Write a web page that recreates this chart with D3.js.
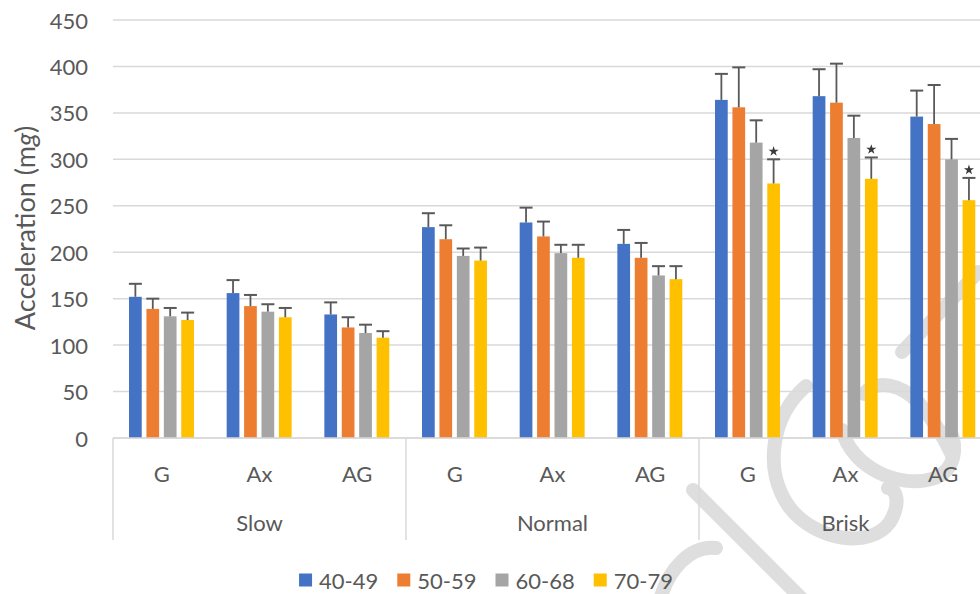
<!DOCTYPE html>
<html>
<head>
<meta charset="utf-8">
<script src="https://cdn.jsdelivr.net/npm/d3@7"></script>
<style>
  html, body { margin: 0; padding: 0; background: #ffffff; }
  svg { display: block; font-family: Lato, "Open Sans", sans-serif; }
</style>
</head>
<body>
<svg id="chart" width="980" height="594"></svg>
<script>
// Walking speed groups and accelerometer metrics (two-level category axis)
const speeds = ["Slow", "Normal", "Brisk"];
const metrics = ["G", "Ax", "AG"];
const ageGroups = ["40-49", "50-59", "60-68", "70-79"];
const seriesColors = ["#4472c4", "#ed7d31", "#a5a5a5", "#ffc000"];

// Mean acceleration (mg), order: Slow G/Ax/AG, Normal G/Ax/AG, Brisk G/Ax/AG
const mean4049 = [152, 156, 133, 227, 232, 209, 364, 368, 346];
const mean5059 = [139, 142, 119, 214, 217, 194, 356, 361, 338];
const mean6068 = [131, 136, 113, 196, 199, 175, 318, 323, 300];
const mean7079 = [127, 130, 108, 191, 194, 171, 274, 279, 256];

// Standard deviations (upper error bars)
const sd4049 = [14, 14, 13, 15, 16, 15, 28, 29, 28];
const sd5059 = [11, 12, 11, 15, 16, 16, 43, 42, 42];
const sd6068 = [9, 8, 9, 8, 9, 10, 24, 24, 22];
const sd7079 = [8, 10, 7, 14, 14, 14, 26, 23, 24];

// Significance markers for the oldest group
const star7079 = [false, false, false, false, false, false, true, true, true];

const yTicks = [0, 50, 100, 150, 200, 250, 300, 350, 400, 450];
const yTitle = "Acceleration (m";
const yTitleItalic = "g";

const means = [mean4049, mean5059, mean6068, mean7079];
const sds = [sd4049, sd5059, sd6068, sd7079];
const stars = [null, null, null, star7079];

const categories = [];
speeds.forEach(s => metrics.forEach(m => categories.push({ speed: s, metric: m, key: s + "|" + m })));

const svg = d3.select("#chart");
const W = 980, H = 594;
svg.append("rect").attr("width", W).attr("height", H).attr("fill", "#ffffff");

const plotLeft = 113, plotRight = 992, plotTop = 20, plotBottom = 438;
const textColor = "#595959", gridColor = "#d9d9d9";

// Background script mark
const wm = svg.append("g")
  .attr("fill", "none")
  .attr("stroke", "#dedede")
  .attr("stroke-width", 14)
  .attr("stroke-linecap", "round");
[
  "M 693,490 L 805,602",
  "M 660,600 C 668,570 690,545 716,548",
  "M 806,386 C 772,415 762,470 790,508 C 815,540 870,550 890,522 C 900,505 898,490 888,488",
  "M 864,394 C 876,378 902,385 918,402 C 934,420 945,440 952,455",
  "M 842,430 C 852,468 900,490 935,478 C 955,470 958,448 950,430",
  "M 902,352 L 978,272"
].forEach(d => wm.append("path").attr("d", d));

const y = d3.scaleLinear().domain([0, 450]).range([plotBottom, plotTop]);
const x0 = d3.scaleBand().domain(categories.map(c => c.key)).range([plotLeft, plotRight]).padding(0);
const bw = x0.bandwidth();
const x1 = d3.scaleBand().domain(ageGroups).range([bw * 0.164, bw * 0.829]).paddingInner(0.27).paddingOuter(0);

// Gridlines
svg.append("g").selectAll("line").data(yTicks).join("line")
  .attr("x1", plotLeft).attr("x2", W)
  .attr("y1", d => y(d)).attr("y2", d => y(d))
  .attr("stroke", gridColor).attr("stroke-width", 1.5);

// Y tick labels
svg.append("g").selectAll("text").data(yTicks).join("text")
  .attr("x", 88).attr("y", d => y(d))
  .attr("text-anchor", "end").attr("dominant-baseline", "central")
  .attr("font-size", 22).attr("fill", textColor)
  .text(d => d);

// Y axis title
const yt = svg.append("text")
  .attr("transform", "translate(35,228) rotate(-90)")
  .attr("text-anchor", "middle")
  .attr("font-size", 27).attr("fill", textColor);
yt.append("tspan").text(yTitle);
yt.append("tspan").attr("font-style", "italic").text(yTitleItalic);
yt.append("tspan").text(")");

// Bars
const barG = svg.append("g");
ageGroups.forEach((ag, si) => {
  barG.append("g").selectAll("rect").data(categories).join("rect")
    .attr("x", c => x0(c.key) + x1(ag))
    .attr("width", x1.bandwidth())
    .attr("y", (c, i) => y(means[si][i]))
    .attr("height", (c, i) => y(0) - y(means[si][i]))
    .attr("fill", seriesColors[si]);
});

// Error bars and significance stars
const errG = svg.append("g").attr("stroke", "#595959").attr("stroke-width", 1.8);
ageGroups.forEach((ag, si) => {
  categories.forEach((c, i) => {
    const cx = x0(c.key) + x1(ag) + x1.bandwidth() / 2;
    const top = y(means[si][i] + sds[si][i]);
    errG.append("line").attr("x1", cx).attr("x2", cx)
      .attr("y1", y(means[si][i])).attr("y2", top);
    errG.append("line").attr("x1", cx - 6.5).attr("x2", cx + 6.5)
      .attr("y1", top).attr("y2", top).attr("stroke-width", 2);
    if (stars[si] && stars[si][i]) {
      svg.append("path")
        .attr("d", d3.symbol(d3.symbolStar, 32)())
        .attr("transform", `translate(${cx},${top - 8})`)
        .attr("fill", "#3a3a3a");
    }
  });
});

// Axis baseline
svg.append("line").attr("x1", plotLeft).attr("x2", W)
  .attr("y1", plotBottom).attr("y2", plotBottom)
  .attr("stroke", gridColor).attr("stroke-width", 1.5);

// Category axis: metric labels
svg.append("g").selectAll("text").data(categories).join("text")
  .attr("x", c => x0(c.key) + bw / 2).attr("y", 473)
  .attr("text-anchor", "middle").attr("dominant-baseline", "central")
  .attr("font-size", 22).attr("fill", textColor)
  .text(c => c.metric);

// Category axis: speed group labels and dividers
speeds.forEach((s, gi) => {
  const first = x0(s + "|" + metrics[0]);
  const last = x0(s + "|" + metrics[metrics.length - 1]) + bw;
  svg.append("text")
    .attr("x", (first + last) / 2).attr("y", 522)
    .attr("text-anchor", "middle").attr("dominant-baseline", "central")
    .attr("font-size", 22).attr("fill", textColor)
    .text(s);
  svg.append("line").attr("x1", first).attr("x2", first)
    .attr("y1", plotBottom).attr("y2", 540)
    .attr("stroke", gridColor).attr("stroke-width", 1.5);
});

// Legend
const legend = svg.append("g");
const items = ageGroups.map((ag, i) => {
  const g = legend.append("g");
  g.append("rect").attr("x", 0).attr("y", -6.5).attr("width", 13).attr("height", 13)
    .attr("fill", seriesColors[i]);
  const t = g.append("text").attr("x", 20).attr("y", 0)
    .attr("dominant-baseline", "central")
    .attr("font-size", 22).attr("fill", textColor).text(ag);
  return { g, w: 20 + t.node().getComputedTextLength() };
});
const gap = 19;
const total = d3.sum(items, d => d.w) + gap * (items.length - 1);
let lx = 486 - total / 2;
items.forEach(it => {
  it.g.attr("transform", `translate(${lx},580)`);
  lx += it.w + gap;
});
</script>
</body>
</html>
